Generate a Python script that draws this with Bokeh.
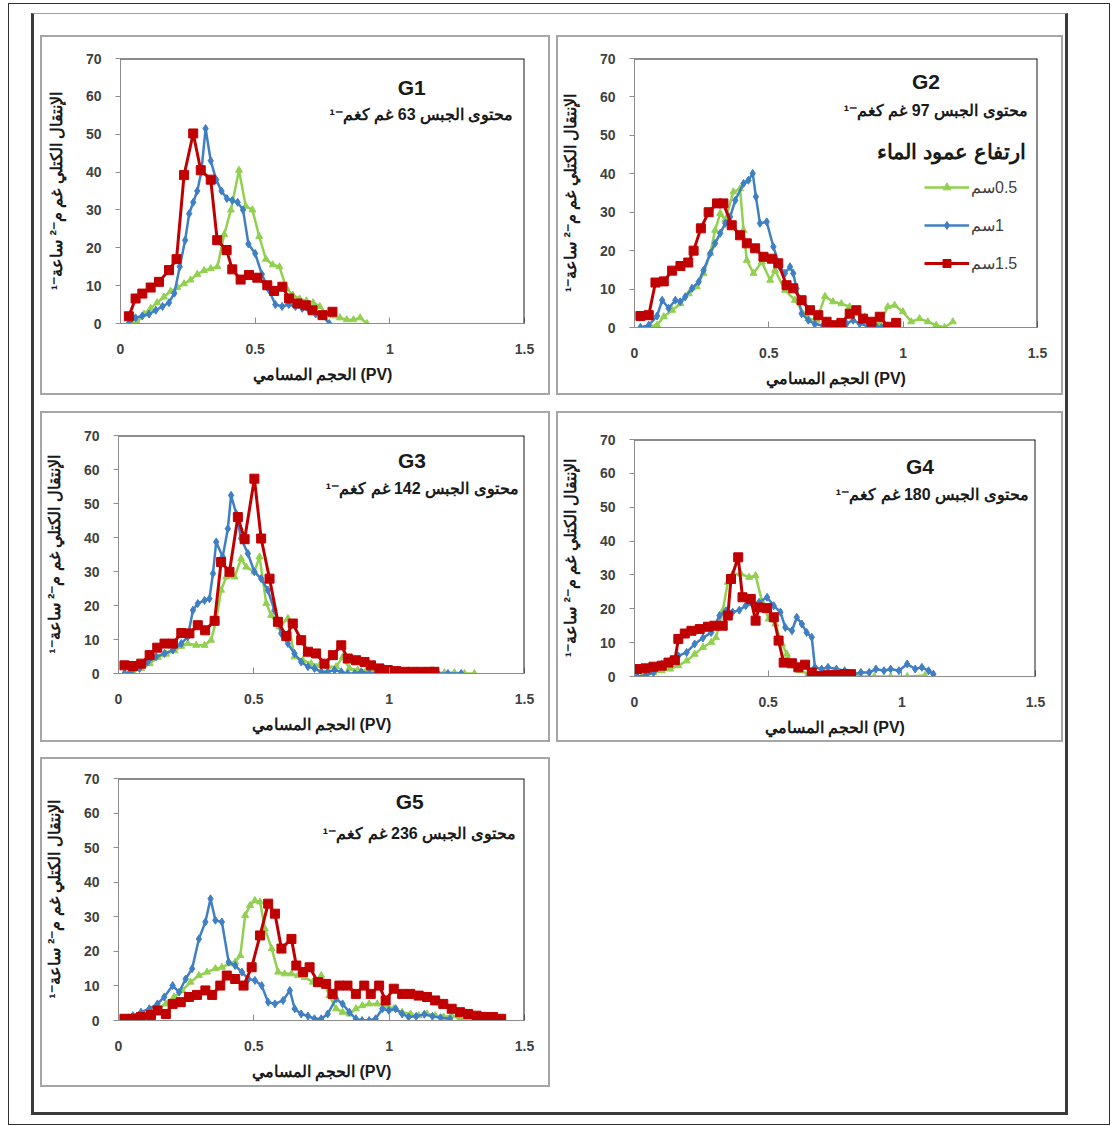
from bokeh.plotting import figure
from bokeh.models import Label, Legend, LegendItem, Span, FixedTicker, NumeralTickFormatter, Spacer
from bokeh.layouts import row, column
from bokeh.embed import file_html
from bokeh.resources import INLINE

# ---------------- data ----------------
X_TICKS = [0, 0.5, 1, 1.5]
Y_TICKS = [0, 10, 20, 30, 40, 50, 60, 70]
X_LABEL = "الحجم المسامي (PV)"
Y_LABEL = "الإنتقال الكتلي غم م⁻² ساعة⁻¹"
LEGEND_TITLE = "ارتفاع عمود الماء"
LEGEND_LABELS = ["0.5سم", "1سم", "1.5سم"]
PANEL_NAMES = ["G1", "G2", "G3", "G4", "G5"]
GYPSUM = [63, 97, 142, 180, 236]

# G1
g1_x_05 = [0.031, 0.062, 0.087, 0.112, 0.136, 0.161, 0.186, 0.211, 0.236, 0.26, 0.285, 0.31, 0.335, 0.36, 0.385,
           0.41, 0.44, 0.465, 0.49, 0.515, 0.54, 0.565, 0.59, 0.615, 0.64, 0.665, 0.69, 0.715, 0.74, 0.765, 0.79,
           0.815, 0.84, 0.865, 0.89, 0.915]
g1_y_05 = [0, 0.3, 2.5, 4, 5.5, 7, 8.5, 9.5, 10.5, 11.5, 13, 14, 14.5, 15, 23.5, 30, 40.5, 31, 30, 23, 17, 15.5, 15,
           9.5, 7.5, 6.5, 6, 5.5, 4.5, 2.5, 2, 1.5, 1, 1, 1.5, 0]
g1_x_10 = [0.031, 0.056, 0.081, 0.106, 0.131, 0.156, 0.18, 0.2, 0.22, 0.24, 0.255, 0.27, 0.285, 0.3, 0.316, 0.335,
           0.355, 0.375, 0.395, 0.415, 0.435, 0.455, 0.475, 0.5, 0.525, 0.55, 0.575, 0.6, 0.625, 0.65, 0.675, 0.7,
           0.725, 0.75, 0.775]
g1_y_10 = [0, 1.5, 2, 2.5, 3.5, 4.5, 5.5, 8, 15, 22, 29, 32, 35, 40, 51.5, 43, 38, 35, 33, 32.5, 32, 30, 21, 18.5,
           13, 9, 5, 4.5, 5, 4.5, 4, 3.5, 2.5, 2, 0]
g1_x_15 = [0.031, 0.056, 0.081, 0.112, 0.143, 0.18, 0.208, 0.236, 0.27, 0.298, 0.335, 0.359, 0.394, 0.415, 0.446,
           0.477, 0.508, 0.545, 0.57, 0.601, 0.626, 0.657, 0.688, 0.713, 0.75, 0.787]
g1_y_15 = [1.9, 6.6, 7.9, 9.5, 11, 14.1, 17, 39.2, 50.2, 40.5, 38, 22, 19.4, 14.3, 11.6, 12.8, 12.1, 10.1, 8.6, 9.7,
           6.6, 5.3, 4.8, 3.5, 2.2, 3.1]

# G2
g2_x_05 = [0.022, 0.053, 0.084, 0.109, 0.14, 0.171, 0.202, 0.232, 0.257, 0.282, 0.3, 0.319, 0.338, 0.368, 0.393,
           0.406, 0.418, 0.443, 0.474, 0.505, 0.523, 0.56, 0.597, 0.647, 0.678, 0.709, 0.739, 0.77, 0.801, 0.832,
           0.857, 0.888, 0.913, 0.943, 0.968, 0.999, 1.03, 1.061, 1.092, 1.123, 1.154, 1.185]
g2_y_05 = [0, 0.3, 0.6, 2.8, 4.5, 6.2, 8.8, 10.6, 14.1, 19.3, 25.3, 29.7, 28, 35.3, 36.1, 25.3, 17.5, 14.1, 17.1,
           12.3, 14.9, 9.7, 7.1, 2.3, 1.9, 8.1, 6.7, 6.2, 5.4, 3.6, 2.8, 1.5, 1, 5.4, 5.8, 4.1, 1.5, 2.3, 1.5, 0.6,
           0, 1.5]
g2_x_10 = [0.022, 0.053, 0.084, 0.103, 0.127, 0.152, 0.17, 0.189, 0.214, 0.239, 0.257, 0.282, 0.3, 0.319, 0.338,
           0.356, 0.375, 0.406, 0.424, 0.44, 0.452, 0.467, 0.492, 0.517, 0.541, 0.56, 0.579, 0.591, 0.603, 0.622,
           0.647, 0.671, 0.702, 0.733, 0.764, 0.789, 0.814, 0.838, 0.869, 0.9, 0.919]
g2_y_10 = [0, 0.6, 3, 7.1, 5, 7.1, 6.7, 8, 10.2, 11.9, 14.9, 19.3, 21.9, 24.5, 27.1, 28.8, 33.1, 37.5, 38.3, 40.1,
           34, 27.1, 27.5, 21, 15.8, 14.1, 15.8, 14.1, 10.1, 3.6, 1.9, 0.9, 0.5, 0.2, 0.5, 1, 1.9, 1, 0.3, 0.2, 0]
g2_x_15 = [0.022, 0.053, 0.078, 0.109, 0.14, 0.171, 0.2, 0.22, 0.247, 0.276, 0.307, 0.331, 0.362, 0.393, 0.418,
           0.449, 0.48, 0.511, 0.535, 0.566, 0.591, 0.622, 0.653, 0.684, 0.715, 0.746, 0.77, 0.801, 0.826, 0.851,
           0.882, 0.913, 0.943, 0.974]
g2_y_15 = [3, 3.2, 11.7, 12, 14.8, 16, 16.9, 20, 25.8, 30, 32.3, 32.3, 26.6, 24, 21.9, 20.6, 18.4, 17.9, 16.7, 11,
           10.2, 7.1, 4.5, 3.2, 1.5, 0.6, 1.2, 3.6, 4.5, 2.3, 1.5, 2.8, 0.2, 1.2]

# G3
g3_x_05 = [0.022, 0.053, 0.084, 0.115, 0.145, 0.176, 0.207, 0.232, 0.256, 0.287, 0.318, 0.342, 0.361, 0.379,
           0.398, 0.429, 0.453, 0.472, 0.502, 0.521, 0.546, 0.564, 0.595, 0.626, 0.65, 0.681, 0.712, 0.743, 0.773,
           0.804, 0.829, 0.853, 0.884, 0.915, 0.946, 0.983, 1.02, 1.057, 1.094, 1.131, 1.167, 1.204, 1.241, 1.278,
           1.315]
g3_y_05 = [0, 0.5, 1.5, 2.9, 4.7, 5.7, 6.7, 8, 8.8, 8.3, 8.3, 9.8, 15.7, 24.5, 28.4, 28.4, 33.8, 31.3, 29.9, 34.3,
           20.6, 17.1, 13.7, 16.2, 4.9, 3.9, 2.9, 2.4, 2, 2, 4.9, 1.5, 1, 0.8, 0.5, 0.5, 0.2, 0.2, 0.2, 0.2, 0.2,
           0.2, 0.2, 0, 0]
g3_x_10 = [0.022, 0.047, 0.078, 0.108, 0.139, 0.17, 0.201, 0.232, 0.256, 0.275, 0.293, 0.318, 0.336, 0.349, 0.361,
           0.385, 0.404, 0.416, 0.435, 0.453, 0.478, 0.502, 0.527, 0.552, 0.576, 0.601, 0.626, 0.65, 0.675, 0.7,
           0.724, 0.749, 0.773, 0.798, 0.823, 0.847, 0.872, 0.897, 0.927, 0.958, 0.995, 1.032, 1.069, 1.106, 1.143,
           1.18, 1.217, 1.266]
g3_y_10 = [0, 0.5, 1.5, 3.4, 4.9, 5.9, 6.9, 8.8, 10.8, 18.6, 20.6, 21.5, 22, 29.4, 38.7, 34.3, 42.6, 52.4, 47, 39.7,
           35.3, 29.9, 27.9, 24.5, 18.6, 11.8, 8.8, 5.9, 3.4, 2, 1.5, 0.5, 0.5, 1, 0.5, 0, 0, 0.5, 0, 0.2, 0, 0, 0,
           0, 0, 0, 0, 0]
g3_x_15 = [0.022, 0.053, 0.084, 0.115, 0.143, 0.17, 0.201, 0.232, 0.262, 0.293, 0.32, 0.355, 0.379, 0.41, 0.441,
           0.466, 0.502, 0.527, 0.558, 0.589, 0.62, 0.644, 0.675, 0.7, 0.73, 0.761, 0.792, 0.823, 0.847, 0.878,
           0.909, 0.933, 0.964, 0.995, 1.026, 1.057, 1.087, 1.118, 1.149, 1.167]
g3_y_15 = [2.4, 2.2, 2.9, 5.4, 7.6, 8.8, 8.8, 11.9, 11.8, 14.2, 12.7, 15.5, 32.8, 29.9, 46, 39.5, 57.3, 39.7, 27.9,
           15.2, 11, 14.7, 9.8, 6.4, 5.9, 2.9, 5.4, 8.3, 4.4, 3.9, 3.4, 2.4, 1.5, 1, 0.7, 0.5, 0.5, 0.5, 0.5, 0.5]

# G4
g4_x_05 = [0.01, 0.041, 0.071, 0.102, 0.133, 0.164, 0.195, 0.225, 0.256, 0.287, 0.305, 0.33, 0.349, 0.367, 0.398,
           0.429, 0.453, 0.478, 0.502, 0.527, 0.552, 0.57, 0.595, 0.619, 0.65, 0.687, 0.749, 0.835, 0.897, 0.958,
           1.02, 1.087]
g4_y_05 = [0, 0.7, 1.2, 1.7, 2.2, 3.2, 4.6, 6.6, 8.6, 10.1, 11.5, 19.4, 27.8, 30.3, 30.3, 29.3, 29.8, 21.9, 17, 15.5,
           9.6, 6.6, 3.2, 1.7, 0.7, 0.2, 0, 0, 0, 0, 0, 0.3]
g4_x_10 = [0.01, 0.041, 0.071, 0.102, 0.133, 0.164, 0.195, 0.225, 0.256, 0.287, 0.318, 0.342, 0.367, 0.392, 0.416,
           0.441, 0.466, 0.496, 0.521, 0.546, 0.564, 0.589, 0.607, 0.626, 0.644, 0.663, 0.675, 0.7, 0.724, 0.755,
           0.786, 0.817, 0.847, 0.878, 0.903, 0.933, 0.958, 0.989, 1.02, 1.05, 1.075, 1.1, 1.118]
g4_y_10 = [0, 0.2, 1.2, 3.7, 4.6, 6.1, 7.1, 9.6, 11.4, 13, 18, 19.4, 19, 19.6, 20.9, 21.4, 21.9, 23.4, 20.9, 19,
           14.5, 13.5, 17.5, 15.5, 13, 11.6, 2.7, 2.2, 2.7, 2.2, 1.7, 0.7, 1.2, 1.2, 2.2, 1.7, 2.2, 1.7, 3.7, 2.2,
           2.7, 1.7, 0.7]
g4_x_15 = [0.01, 0.041, 0.071, 0.102, 0.127, 0.151, 0.164, 0.188, 0.213, 0.244, 0.275, 0.299, 0.33, 0.349, 0.361,
           0.388, 0.404, 0.435, 0.453, 0.466, 0.496, 0.521, 0.539, 0.558, 0.589, 0.613, 0.638, 0.663, 0.693, 0.724,
           0.755, 0.786, 0.81]
g4_y_15 = [2.2, 2.4, 2.9, 3.2, 4.1, 4.8, 11.1, 12.7, 13.5, 14, 14.7, 15, 15, 18, 28.8, 35.2, 23.4, 22.9, 16.5, 20.4,
           20.2, 17.5, 10.6, 4.1, 3.9, 2.7, 3.5, 1.2, 0.2, 0.4, 0.4, 0.7, 0.7]

# G5
g5_x_05 = [0.022, 0.053, 0.083, 0.114, 0.144, 0.175, 0.205, 0.236, 0.266, 0.297, 0.327, 0.358, 0.382, 0.407, 0.431,
           0.45, 0.468, 0.486, 0.504, 0.523, 0.541, 0.566, 0.59, 0.614, 0.639, 0.663, 0.688, 0.718, 0.749, 0.779,
           0.804, 0.828, 0.853, 0.877, 0.901, 0.926, 0.956, 0.987, 1.017, 1.048, 1.079, 1.109, 1.14, 1.17, 1.201,
           1.231, 1.262, 1.292, 1.323, 1.353, 1.384, 1.414]
g5_y_05 = [0, 0.3, 1, 1.9, 3.4, 4.8, 6.8, 8.7, 11.1, 13, 14, 15, 15.4, 16.4, 16.9, 18.8, 30.4, 33.3, 34.7, 34.3,
           26.5, 20.8, 14, 13.5, 13.5, 13, 12.5, 11.1, 13, 7.2, 3.4, 2.4, 1.9, 3.4, 4.3, 4.8, 4.8, 4.3, 3.4, 2.4,
           1.9, 1.4, 1.9, 1.4, 1, 1.4, 0.5, 0.5, 0.5, 1.4, 1, 0]
g5_x_10 = [0.022, 0.053, 0.083, 0.114, 0.144, 0.169, 0.2, 0.224, 0.248, 0.272, 0.297, 0.321, 0.34, 0.358, 0.382,
           0.407, 0.431, 0.456, 0.48, 0.504, 0.529, 0.553, 0.578, 0.608, 0.633, 0.651, 0.675, 0.7, 0.724, 0.749,
           0.773, 0.804, 0.828, 0.853, 0.877, 0.9, 0.926, 0.95, 0.975, 0.999, 1.024, 1.048, 1.072, 1.1, 1.13, 1.16,
           1.19, 1.225]
g5_y_10 = [0.5, 1.4, 2.4, 3.4, 4.8, 6.8, 10.1, 8.2, 12, 15, 23.6, 28.5, 35.2, 29, 28.5, 16.9, 15.9, 14, 12, 11.6,
           10.1, 5.3, 4.8, 5.8, 8.7, 3.4, 1.9, 1.3, 0.5, 0.5, 1.9, 6.3, 4.8, 2.4, 0.5, 0, 0, 0.5, 3.4, 2.9, 3.4,
           1.9, 1, 1.2, 1.8, 1.2, 0.8, 0.5]
g5_x_15 = [0.022, 0.053, 0.083, 0.12, 0.144, 0.175, 0.2, 0.23, 0.26, 0.29, 0.321, 0.346, 0.376, 0.4, 0.431, 0.462,
           0.492, 0.523, 0.553, 0.578, 0.602, 0.639, 0.657, 0.682, 0.706, 0.737, 0.767, 0.791, 0.816, 0.846, 0.877,
           0.908, 0.932, 0.963, 0.987, 1.017, 1.048, 1.078, 1.109, 1.14, 1.17, 1.2, 1.231, 1.262, 1.292, 1.323,
           1.353, 1.384, 1.414]
g5_y_15 = [0.5, 0.5, 1, 1.6, 2.9, 1.9, 4.8, 5.3, 6.8, 7.4, 8.7, 7.4, 10.1, 13, 12, 10.1, 15.4, 24.6, 33.8, 30.9,
           20.8, 23.6, 15.9, 14, 15.4, 11.1, 10.6, 7.7, 10.1, 10.1, 7.7, 10.1, 7.7, 10.1, 5.8, 9.2, 7.7, 7.7, 7.2,
           6.8, 5.8, 4.8, 3.4, 2.4, 1.9, 1.4, 1, 1, 0.5]

SERIES = [
    [(g1_x_05, g1_y_05), (g1_x_10, g1_y_10), (g1_x_15, g1_y_15)],
    [(g2_x_05, g2_y_05), (g2_x_10, g2_y_10), (g2_x_15, g2_y_15)],
    [(g3_x_05, g3_y_05), (g3_x_10, g3_y_10), (g3_x_15, g3_y_15)],
    [(g4_x_05, g4_y_05), (g4_x_10, g4_y_10), (g4_x_15, g4_y_15)],
    [(g5_x_05, g5_y_05), (g5_x_10, g5_y_10), (g5_x_15, g5_y_15)],
]

# ---------------- style ----------------
COLORS = ["#92d050", "#3f7fc4", "#c00000"]
MARKERS = ["triangle", "diamond", "square"]
MARKER_SIZES = [7, 8, 9]
LINE_WIDTHS = [2.5, 2.5, 3]
FONT = "Liberation Sans"
BOX = 2  # panel border width

# panel geometry (outer box incl. border): width, height, frame offsets (l, r, t, b), text positions (data units)
PANELS = [
    dict(w=510, h=360, b=(80, 26, 23, 72), title=(1.081, 62.3), note=(1.459, 55.1)),
    dict(w=507, h=360, b=(76, 26, 23, 68), title=(1.085, 64.0), note=(1.463, 56.5)),
    dict(w=510, h=331, b=(77, 26, 24, 69), title=(1.084, 62.6), note=(1.478, 54.4)),
    dict(w=507, h=331, b=(73, 28, 28, 66), title=(1.068, 62.0), note=(1.474, 53.8)),
    dict(w=510, h=330, b=(74, 26, 21, 67), title=(1.076, 63.3), note=(1.467, 54.1)),
]


def make_panel(i):
    cfg = PANELS[i]
    l, r, t, b = cfg["b"]
    p = figure(width=cfg["w"] - 2 * BOX, height=cfg["h"] - 2 * BOX, x_range=(0, 1.5), y_range=(0, 70),
               output_backend="svg", toolbar_location=None, title=None,
               min_border_left=l - BOX, min_border_right=r - BOX,
               min_border_top=t - BOX, min_border_bottom=b - BOX)
    p.grid.visible = False
    p.outline_line_color = None
    p.background_fill_color = "white"
    p.border_fill_color = "white"

    xa, ya = p.xaxis[0], p.yaxis[0]
    xa.ticker = FixedTicker(ticks=X_TICKS)
    xa.formatter = NumeralTickFormatter(format="0.[0]")
    ya.ticker = FixedTicker(ticks=Y_TICKS)
    for ax in (xa, ya):
        ax.axis_line_color = "#8c8c8c"
        ax.major_tick_line_color = "#8c8c8c"
        ax.minor_tick_line_color = None
        ax.major_label_text_font = FONT
        ax.major_label_text_font_style = "bold"
        ax.major_label_text_font_size = "14px"
        ax.major_label_text_color = "#404040"
        ax.axis_label_text_font = FONT
        ax.axis_label_text_font_style = "bold"
        ax.axis_label_text_font_size = "16px"
        ax.axis_label_text_color = "#1a1a1a"
    xa.major_tick_in = 6
    xa.major_tick_out = 0
    xa.major_label_standoff = 20
    xa.axis_label = X_LABEL
    xa.axis_label_standoff = 9
    ya.major_tick_in = 0
    ya.major_tick_out = 5
    ya.major_label_standoff = 14
    ya.axis_label = Y_LABEL
    ya.axis_label_standoff = 18

    p.add_layout(Span(location=70, dimension="width", line_color="#1a1a1a", line_width=2))
    p.add_layout(Span(location=1.5, dimension="height", line_color="#1a1a1a", line_width=2))

    items = []
    for k, (xs, ys) in enumerate(SERIES[i]):
        ln = p.line(xs, ys, line_color=COLORS[k], line_width=LINE_WIDTHS[k])
        sc = p.scatter(xs, ys, marker=MARKERS[k], size=MARKER_SIZES[k],
                       fill_color=COLORS[k], line_color=COLORS[k])
        items.append(LegendItem(label="\u200f" + LEGEND_LABELS[k], renderers=[ln, sc]))

    tx, ty = cfg["title"]
    p.add_layout(Label(x=tx, y=ty, text=PANEL_NAMES[i], text_font=FONT, text_font_style="bold",
                       text_font_size="21px", text_align="center", text_baseline="middle",
                       text_color="#1a1a1a"))
    nx, ny = cfg["note"]
    note = "محتوى الجبس " + str(GYPSUM[i]) + " غم كغم⁻¹"
    p.add_layout(Label(x=nx, y=ny, text=note, text_font=FONT, text_font_style="bold",
                       text_font_size="16px", text_align="right", text_baseline="middle",
                       text_color="#1a1a1a"))

    if i == 1:
        p.add_layout(Label(x=1.456, y=45.8, text=LEGEND_TITLE, text_font=FONT, text_font_style="bold",
                           text_font_size="21px", text_align="right", text_baseline="middle",
                           text_color="#1a1a1a"))
        leg = Legend(items=items, location=(290, 54), padding=0, margin=0, spacing=18,
                     glyph_width=45, glyph_height=20, label_height=20, label_standoff=2,
                     label_text_font=FONT, label_text_font_size="16px", label_text_color="#404040",
                     background_fill_alpha=0, border_line_color=None)
        p.add_layout(leg)
    return column(p, styles={"border": f"{BOX}px solid #a6a6a6"})


panels = [make_panel(i) for i in range(5)]

inner = column(
    Spacer(height=21),
    row(Spacer(width=6), panels[0], Spacer(width=6), panels[1], Spacer(width=2)),
    Spacer(height=16),
    row(Spacer(width=6), panels[2], Spacer(width=6), panels[3], Spacer(width=2)),
    Spacer(height=15),
    row(Spacer(width=6), panels[4]),
    Spacer(height=25),
    styles={"border-left": "3px solid #3a3a3a", "border-right": "3px solid #3a3a3a",
            "border-bottom": "3px solid #3a3a3a", "border-top": "1px solid #a0a0a0"},
)

outer = column(
    Spacer(height=9),
    row(Spacer(width=22), inner, Spacer(width=41)),
    Spacer(height=9),
    styles={"border": "1px solid #303030"},
)

page = column(Spacer(height=3), row(Spacer(width=8), outer))

open("out.html", "w").write(file_html(page, INLINE))
